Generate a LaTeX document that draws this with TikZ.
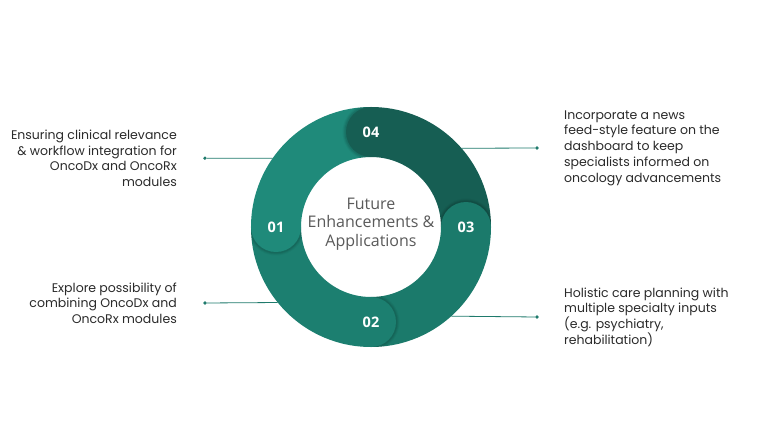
\documentclass[tikz,border=0pt]{standalone}
\usepackage{fontspec}
\setmainfont{Poppins}
\newfontfamily\numfont{Open Sans}
\newfontfamily\hubfont{Open Sans}
\usetikzlibrary{positioning}
\definecolor{segone}{HTML}{1F8A7A}
\definecolor{segtwo}{HTML}{1C7F70}
\definecolor{segthree}{HTML}{1B7A6B}
\definecolor{segfour}{HTML}{165E53}
\definecolor{linkcol}{HTML}{1F7A6C}
\definecolor{itemtext}{HTML}{2A2A2A}
\definecolor{hubtext}{HTML}{5A5A5A}
\tikzstyle{item} = [font=\fontsize{12.5}{15.7}\selectfont, text=itemtext, inner sep=0pt]
\tikzstyle{num} = [font=\numfont\bfseries\fontsize{14.5}{16}\selectfont, text=white]
\tikzstyle{hub} = [font=\hubfont\fontsize{16}{18.3}\selectfont, text=hubtext, align=center]
\tikzstyle{dot} = [circle, fill=linkcol, inner sep=0pt, minimum size=3.6pt]
\tikzstyle{link} = [linkcol, line width=0.8pt]

\begin{document}
\begin{tikzpicture}[x=1pt,y=1pt]
	\fill[white] (-371,-220) rectangle (397,227);
	\useasboundingbox (-371,-220) rectangle (397,227);
	\foreach \a/\c in {180/segone, 90/segfour, 0/segthree, -90/segtwo}
		\fill[\c] (\a:120pt) arc[start angle=\a, end angle=\a-90, radius=120pt] -- (\a-90:70pt) arc[start angle=\a-90, end angle=\a, radius=70pt] -- cycle;
	\foreach \a in {180, 90, 0, -90} {
		\begin{scope}
			\clip (\a:120pt) arc[start angle=\a, end angle=\a+90, radius=120pt] -- (\a+90:70pt) arc[start angle=\a+90, end angle=\a, radius=70pt] -- cycle;
			\foreach \r/\o in {28.5/0.04, 27.5/0.06, 26.5/0.08}
				\fill[black, opacity=\o] (\a:95pt) circle (\r pt);
		\end{scope}
	}
	\foreach \a/\c in {180/segone, 90/segfour, 0/segthree, -90/segtwo}
		\fill[\c] (\a:95pt) circle (25pt);
	\node (n1) at (180:95pt) [num] {01};
	\node (n2) at (-90:95pt) [num] {02};
	\node (n3) at (0:95pt) [num] {03};
	\node (n4) at (90:95pt) [num] {04};
	\node (ring) at (0,0) [circle, minimum size=240pt, inner sep=0pt, outer sep=0pt] {};
	\node (hub) at (0,3) [hub] {Future\\Enhancements \&\\Applications};
	\node (d1) at (-166,68.8) [dot] {};
	\node (d2) at (-166,-76) [dot] {};
	\node (d3) at (166,79) [dot] {};
	\node (d4) at (166,-90) [dot] {};
	\node (t1) [item, left=26pt of d1, align=right] {Ensuring clinical relevance\\\& workflow integration for\\OncoDx and OncoRx\\modules};
	\node (t2) [item, left=26pt of d2, align=right] {Explore possibility of\\combining OncoDx and\\OncoRx modules};
	\node (t3) [item, right=25pt of d3, align=left] {Incorporate a news\\feed-style feature on the\\dashboard to keep\\specialists informed on\\oncology advancements};
	\node (t4) [item, right=25pt of d4, align=left] {Holistic care planning with\\multiple specialty inputs\\(e.g. psychiatry,\\rehabilitation)};
	\draw[link] (d1) -- (ring.145);
	\draw[link] (d2) -- (ring.219.3);
	\draw[link] (d3) -- (ring.41.2);
	\draw[link] (d4) -- (ring.-48.6);
\end{tikzpicture}
\end{document}
